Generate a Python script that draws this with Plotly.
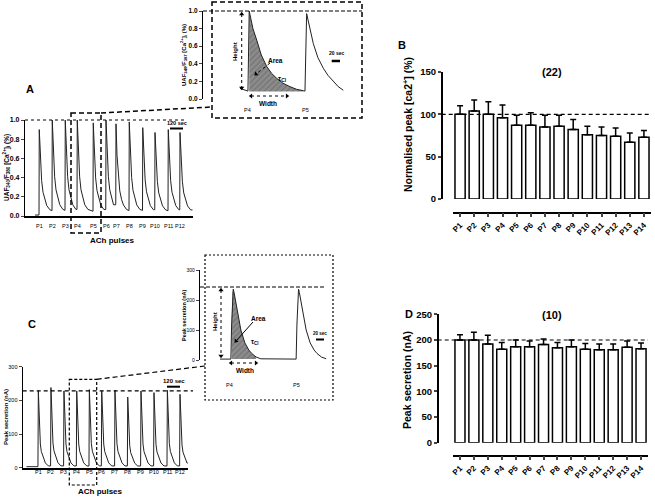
import plotly.graph_objects as go

W, H = 655, 497
def px(x): return x / W
def py(y): return 1 - y / H

FONT = "Liberation Sans"

# ---------------- DATA ----------------
# Panels B and D (bar charts)
bar_labels = ["P1", "P2", "P3", "P4", "P5", "P6", "P7", "P8", "P9", "P10", "P11", "P12", "P13", "P14"]
norm_peak_mean = [100, 104, 100, 96, 87, 87, 85, 86, 82, 76, 75, 74, 67, 73]
norm_peak_err = [10, 13, 15, 15, 12, 15, 14, 13, 12, 10, 10, 10, 11, 8]
sec_peak_mean = [200, 200, 192, 182, 187, 187, 191, 185, 187, 182, 181, 181, 186, 183]
sec_peak_err = [10, 15, 17, 13, 13, 11, 11, 10, 13, 11, 11, 11, 12, 11]

# Panel A main trace (seconds, ratio)
trace_labels = ["P1", "P2", "P3", "P4", "P5", "P6", "P7", "P8", "P9", "P10", "P11", "P12"]
ca_pulse_t = [114, 218, 322, 418, 546, 648, 728, 834, 942, 1040, 1146, 1240]
ca_peaks = [0.90, 1.0, 1.0, 1.0, 0.97, 1.0, 0.96, 0.98, 0.92, 0.87, 0.90, 0.87]
ca_decay_t = [0, 8, 19, 30, 45, 60, 85, 100, 120]
ca_decay_f = [1, 0.65, 0.39, 0.25, 0.15, 0.09, 0.04, 0.03, 0.02]

# Panel A inset trace (seconds, ratio)
ca_inset_t = [89, 100, 108, 111, 115, 120, 129, 140, 153, 165, 177, 192, 209, 225, 241, 245,
              249, 253, 258, 265, 276, 289, 300, 313, 325, 337]
ca_inset_v = [0.12, 0.10, 0.09, 1.0, 0.9, 0.8, 0.67, 0.5, 0.37, 0.29, 0.235, 0.18, 0.14, 0.11, 0.094, 0.09,
              0.97, 0.88, 0.77, 0.63, 0.47, 0.35, 0.27, 0.2, 0.14, 0.1]
ca_inset_pulse_t = [106, 245]

# Panel C main trace (seconds, nA)
sec_pulse_t = [125, 226, 330, 432, 533, 632, 738, 840, 946, 1050, 1157, 1258]
sec_peaks = [228, 238, 228, 228, 232, 228, 230, 210, 228, 223, 230, 218]
sec_decay_t = [0, 4, 8, 16, 24, 40, 56, 80]
sec_decay_f = [1, 0.78, 0.55, 0.3, 0.2, 0.12, 0.05, 0.01]

# Panel C inset trace (seconds, nA)
sec_inset_t = [50, 77, 79, 81, 83, 85, 89, 95, 102, 112, 122, 129, 140, 152, 180, 240,
               242, 244, 246, 248, 252, 258, 265, 275, 285, 292, 303, 315]
sec_inset_v = [3, 3, 120, 225, 236, 225, 195, 150, 100, 57, 33, 22, 10, 4, 3, 3,
               120, 225, 236, 225, 195, 150, 100, 57, 33, 22, 10, 4]
sec_inset_pulse_t = [75, 240]


def build_trace(pulse_t, peaks, base, start_level, rise, dec_t, dec_f, t_start, t_end):
    xs, ys = [t_start], [start_level]
    for i, (t, p) in enumerate(zip(pulse_t, peaks)):
        nxt = pulse_t[i + 1] - rise if i + 1 < len(pulse_t) else t_end
        xs.append(t - rise); ys.append(ys[-1])
        for d, f in zip(dec_t, dec_f):
            tt = t + d
            if tt >= nxt:
                break
            xs.append(tt); ys.append(base + (p - base) * f)
    xs.append(t_end); ys.append(ys[-1])
    return xs, ys


fig = go.Figure()

# ---- Panel A main ----
ax_, ay_ = build_trace(ca_pulse_t, ca_peaks, 0.03, 0.01, 2, ca_decay_t, ca_decay_f, 80, 1340)
fig.add_trace(go.Scatter(x=ax_, y=ay_, mode="lines", line=dict(color="#222", width=1),
                         xaxis="x", yaxis="y", cliponaxis=False, showlegend=False))
fig.add_trace(go.Scatter(x=ca_pulse_t, y=[-0.034] * len(ca_pulse_t), mode="markers",
                         marker=dict(color="black", size=3.5), xaxis="x", yaxis="y",
                         cliponaxis=False, showlegend=False))

# ---- Panel A inset ----
fill_x = [111] + ca_inset_t[3:15] + [241, 111]
fill_y = [0.085] + ca_inset_v[3:15] + [0.085, 0.085]
fig.add_trace(go.Scatter(x=fill_x, y=fill_y, mode="lines", fill="toself",
                         fillcolor="#7a7a7a", line=dict(width=0), xaxis="x2", yaxis="y2",
                         fillpattern=dict(shape="/", fgcolor="#5a5a5a", bgcolor="#8c8c8c", size=4, solidity=0.3),
                         showlegend=False))
fig.add_trace(go.Scatter(x=ca_inset_t, y=ca_inset_v, mode="lines", line=dict(color="#222", width=1),
                         xaxis="x2", yaxis="y2", cliponaxis=False, showlegend=False))
fig.add_trace(go.Scatter(x=ca_inset_pulse_t, y=[-0.02, -0.02], mode="markers",
                         marker=dict(color="black", size=5), xaxis="x2", yaxis="y2",
                         cliponaxis=False, showlegend=False))

# ---- Panel B bars ----
fig.add_trace(go.Bar(x=bar_labels, y=norm_peak_mean, width=0.72,
                     marker=dict(color="white", line=dict(color="black", width=1.5)),
                     error_y=dict(type="data", array=norm_peak_err, arrayminus=[0] * 14, symmetric=False,
                                  thickness=1.5, width=3, color="black"),
                     xaxis="x3", yaxis="y3", showlegend=False))

# ---- Panel C main ----
cx_, cy_ = build_trace(sec_pulse_t, sec_peaks, 3, 3, 3, sec_decay_t, sec_decay_f, 30, 1320)
fig.add_trace(go.Scatter(x=cx_, y=cy_, mode="lines", line=dict(color="#222", width=1),
                         xaxis="x4", yaxis="y4", cliponaxis=False, showlegend=False))
fig.add_trace(go.Scatter(x=sec_pulse_t, y=[-12] * len(sec_pulse_t), mode="markers",
                         marker=dict(color="black", size=3), xaxis="x4", yaxis="y4",
                         cliponaxis=False, showlegend=False))

# ---- Panel C inset ----
cfx = [79] + sec_inset_t[2:13] + [140, 79]
cfy = [3] + sec_inset_v[2:13] + [3, 3]
fig.add_trace(go.Scatter(x=cfx, y=cfy, mode="lines", fill="toself", fillcolor="#7a7a7a",
                         line=dict(width=0), xaxis="x5", yaxis="y5",
                         fillpattern=dict(shape="/", fgcolor="#5a5a5a", bgcolor="#8c8c8c", size=4, solidity=0.3),
                         showlegend=False))
fig.add_trace(go.Scatter(x=sec_inset_t, y=sec_inset_v, mode="lines", line=dict(color="#222", width=1),
                         xaxis="x5", yaxis="y5", cliponaxis=False, showlegend=False))
fig.add_trace(go.Scatter(x=sec_inset_pulse_t, y=[-50, -50], mode="markers",
                         marker=dict(color="black", size=5), xaxis="x5", yaxis="y5",
                         cliponaxis=False, showlegend=False))

# ---- Panel D bars ----
fig.add_trace(go.Bar(x=bar_labels, y=sec_peak_mean, width=0.72,
                     marker=dict(color="white", line=dict(color="black", width=1.5)),
                     error_y=dict(type="data", array=sec_peak_err, arrayminus=[0] * 14, symmetric=False,
                                  thickness=1.5, width=3, color="black"),
                     xaxis="x6", yaxis="y6", showlegend=False))

# ---- arrowheads for the annotation arrows (on a pixel overlay axis) ----
head_x = [241.7, 241.7, 251, 287, 256, 221, 221, 231, 256, 236]
head_y = [14, 88, 96, 96, 74, 290, 356, 363, 363, 341]
head_sym = ["triangle-up", "triangle-down", "triangle-left", "triangle-right", "triangle-down",
            "triangle-up", "triangle-down", "triangle-left", "triangle-right", "triangle-down"]
head_ang = [0, 0, 0, 0, 50, 0, 0, 0, 0, 40]
fig.add_trace(go.Scatter(x=head_x, y=head_y, mode="markers",
                         marker=dict(symbol=head_sym, angle=head_ang, size=4.5, color="black"),
                         xaxis="x7", yaxis="y7", cliponaxis=False, showlegend=False))

bold = "bold"
small_y = dict(showline=True, linecolor="black", linewidth=1.2, ticks="outside", ticklen=3,
               tickwidth=1, showgrid=False, zeroline=False, automargin=False,
               tickfont=dict(family=FONT, size=7, color="black", weight=bold))
bar_x = dict(type="category", range=[-0.5, 13.5], anchor="free", showline=True, linecolor="black",
             linewidth=1.5, ticks="outside", ticklen=4, tickwidth=1.5, tickangle=-45, showgrid=False,
             zeroline=False, automargin=False, tickfont=dict(family=FONT, size=8, color="black", weight=bold))
bar_y = dict(anchor="free", showline=True, linecolor="black", linewidth=1.5, ticks="outside", ticklen=3,
             tickwidth=1.5, showgrid=False, zeroline=False, automargin=False,
             tickfont=dict(family=FONT, size=9.5, color="black", weight=bold))
trace_x = dict(showline=True, linecolor="black", linewidth=1.5, showticklabels=False, ticks="",
               showgrid=False, zeroline=False, automargin=False)

fig.update_layout(
    width=W, height=H, autosize=False, margin=dict(l=0, r=0, t=0, b=0, pad=0),
    paper_bgcolor="white", plot_bgcolor="rgba(0,0,0,0)", bargap=0.28,
    font=dict(family=FONT, color="black"),
    xaxis=dict(domain=[px(25), px(193)], range=[0, 1344], anchor="y", **trace_x),
    yaxis=dict(domain=[py(216), py(120)], range=[0, 1], anchor="x",
               tickvals=[0, 0.2, 0.4, 0.6, 0.8, 1.0], ticktext=["0.0", "0.2", "0.4", "0.6", "0.8", "1.0"],
               **small_y),
    xaxis2=dict(domain=[px(203), px(362)], range=[0, 382], anchor="y2", visible=False),
    yaxis2=dict(domain=[py(99), py(11)], range=[0, 1], anchor="x2",
                tickvals=[0, 0.2, 0.4, 0.6, 0.8, 1.0], ticktext=["0.0", "0.2", "0.4", "0.6", "0.8", "1.0"],
                **{**small_y, "tickfont": dict(family=FONT, size=6.5, color="black", weight=bold)}),
    xaxis3=dict(domain=[px(453), px(651)], position=py(212.7), **bar_x),
    yaxis3=dict(domain=[py(199), py(72)], range=[0, 150], position=px(441.7),
                tickvals=[0, 50, 100, 150], **bar_y),
    xaxis4=dict(domain=[px(22.7), px(188)], range=[0, 1322], anchor="y4", **trace_x),
    yaxis4=dict(domain=[py(467.7), py(366.7)], range=[0, 300], anchor="x4", tickvals=[0, 100, 200, 300],
                **{**small_y, "tickfont": dict(family=FONT, size=5.5, color="black")}),
    xaxis5=dict(domain=[px(200), px(333)], range=[0, 332], anchor="y5", visible=False),
    yaxis5=dict(domain=[py(360), py(270)], range=[0, 300], anchor="x5", tickvals=[0, 100, 200, 300],
                **{**small_y, "tickfont": dict(family=FONT, size=5, color="black")}),
    xaxis6=dict(domain=[px(453), px(648)], position=py(455.7), **bar_x),
    yaxis6=dict(domain=[py(442.7), py(314.3)], range=[0, 250], position=px(437.7),
                tickvals=[0, 50, 100, 150, 200, 250], **bar_y),
    xaxis7=dict(domain=[0, 1], range=[0, W], anchor="y7", visible=False),
    yaxis7=dict(domain=[0, 1], range=[H, 0], anchor="x7", visible=False),
)

shapes = []
def pline(x0, y0, x1, y1, dash="solid", width=1.2):
    shapes.append(dict(type="line", xref="paper", yref="paper", x0=px(x0), y0=py(y0), x1=px(x1), y1=py(y1),
                       line=dict(color="black", width=width, dash=dash)))
def prect(x0, y0, x1, y1, dash="dash", width=1.5):
    shapes.append(dict(type="rect", xref="paper", yref="paper", x0=px(x0), y0=py(y0), x1=px(x1), y1=py(y1),
                       line=dict(color="black", width=width, dash=dash), fillcolor="rgba(0,0,0,0)"))

# Panel A decorations
pline(25, 120, 185, 120, dash="dot", width=1)
prect(71, 113, 101, 233, dash="5px,3px", width=1.5)
pline(101, 113, 212, 107, dash="5px,3px", width=1.5)
prect(212, 2, 362, 118, dash="5px,3px", width=1.5)
pline(203, 11, 362, 11, dash="4px,2px", width=1)
pline(241.7, 14, 241.7, 88, dash="dot", width=1)
pline(251, 96, 287, 96, dash="dot", width=1)
pline(270, 63, 256, 74, dash="dot", width=1)
pline(331.7, 61, 340, 61, width=2.5)
pline(170, 128.5, 183, 128.5, width=2)
# Panel B / D reference lines
shapes.append(dict(type="line", xref="paper", yref="y3", x0=px(441.7), x1=px(651), y0=100, y1=100,
                   line=dict(color="black", width=1.2, dash="4px,3px")))
shapes.append(dict(type="line", xref="paper", yref="y6", x0=px(437.7), x1=px(648), y0=200, y1=200,
                   line=dict(color="black", width=1.2, dash="4px,3px")))
# Panel C decorations
shapes.append(dict(type="line", xref="paper", yref="y4", x0=px(22.7), x1=px(193), y0=228, y1=228,
                   line=dict(color="black", width=1.2, dash="4px,3px")))
prect(69.3, 379.3, 96.7, 485, dash="3px,2px", width=1.2)
pline(96.7, 379.3, 205, 366, dash="5px,3px", width=1.2)
prect(205, 255, 333, 400, dash="2px,2px", width=1.2)
pline(200, 287, 325, 287, dash="4px,2px", width=1)
pline(221, 290, 221, 356, dash="dot", width=1)
pline(231, 363, 256, 363, dash="dot", width=1)
pline(253, 322, 236, 341, width=1)
pline(167, 386.7, 180, 386.7, width=2)
pline(316, 339.5, 324, 339.5, width=2)

anns = []
def txt(x, y, s, size=7, b=True, angle=0, xa="center"):
    anns.append(dict(xref="paper", yref="paper", x=px(x), y=py(y), text=s, showarrow=False,
                     xanchor=xa, yanchor="middle", textangle=angle,
                     font=dict(family=FONT, size=size, color="black", weight="bold" if b else "normal")))

# Panel A text
txt(30, 89, "A", size=11)
txt(112, 240, "ACh pulses", size=8)
txt(6, 168, "UAF<sub>340</sub>/F<sub>380</sub> [Ca<sup>2+</sup>]<sub>i</sub> (%)", size=6.5, angle=-90)
for t, lab in zip(ca_pulse_t, trace_labels):
    anns.append(dict(xref="x", yref="paper", x=t, y=py(226), text=lab, showarrow=False,
                     font=dict(family=FONT, size=5.5, color="black")))
txt(176.5, 123, "120 sec", size=5.5)
# Panel A inset text
txt(184, 55, "UAF<sub>340</sub>/F<sub>387</sub> [Ca<sup>2+</sup>]<sub>i</sub> (%)", size=6, angle=-90)
txt(235, 52, "Height", size=6, angle=-90)
txt(275, 60, "Area", size=6.5)
txt(282, 79, "τ<sub>Cl</sub>", size=7)
txt(268, 103, "Width", size=6.5)
txt(247.3, 109.5, "P4", size=5.5, b=False)
txt(305, 109.5, "P5", size=5.5, b=False)
txt(336.7, 53, "20 sec", size=5)

# Panel B text
txt(402, 45, "B", size=11)
txt(552, 72, "(22)", size=11)
txt(408, 125, "Normalised peak [ca2<sup>+</sup>] (%)", size=10.5, angle=-90)

# Panel C text
txt(32, 324, "C", size=11)
txt(100, 491, "ACh pulses", size=8)
txt(6, 417, "Peak secretion (nA)", size=6, angle=-90)
for t, lab in zip(sec_pulse_t, trace_labels):
    anns.append(dict(xref="x4", yref="paper", x=t, y=py(477), text=lab, showarrow=False,
                     font=dict(family=FONT, size=5.5, color="black")))
txt(174, 381, "120 sec", size=6)
txt(184, 315, "Peak secretion (nA)", size=5.5, angle=-90)
txt(215, 322, "Height", size=6, angle=-90)
txt(258, 318, "Area", size=6.5)
txt(254, 342, "τ<sub>Cl</sub>", size=6.5)
txt(245, 370, "Width", size=6.5)
txt(230, 385, "P4", size=5.5, b=False)
txt(296, 385, "P5", size=5.5, b=False)
txt(320, 333, "20 sec", size=4.5)

# Panel D text
txt(409, 314, "D", size=11)
txt(552, 315, "(10)", size=11)
txt(407, 380, "Peak secretion (nA)", size=10.5, angle=-90)

fig.update_layout(shapes=shapes, annotations=anns)
fig.write_html("out.html", config={"displayModeBar": False},
               post_script="document.body.style.margin='0';document.body.style.padding='0';")
